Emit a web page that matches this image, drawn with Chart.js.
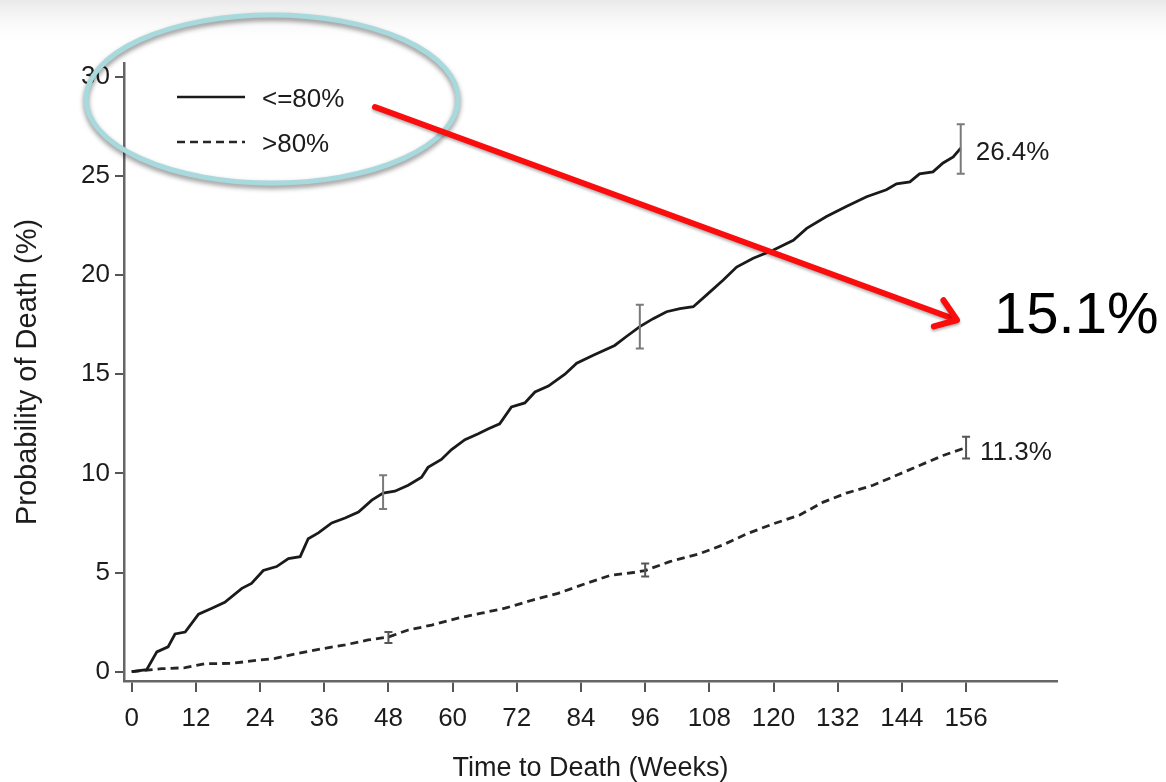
<!DOCTYPE html>
<html>
<head>
<meta charset="utf-8">
<title>Probability of Death</title>
<script src="https://cdn.jsdelivr.net/npm/chart.js@4/dist/chart.umd.min.js"></script>
<style>
  html, body { margin: 0; padding: 0; background: #ffffff; }
  #wrap { width: 1166px; height: 782px; position: relative; }
</style>
</head>
<body>
<div id="wrap"><canvas id="c"></canvas></div>
<script>
// Cumulative probability of death (%) by week, two groups
const solidLabel = '<=80%';
const dashedLabel = '>80%';

const solidWeeks = [0, 2.8, 4.7, 6.8, 8.1, 10, 12.5, 15, 17.4, 20.6, 22.4, 24.6, 27.1, 29.3, 31.5, 33, 34.9, 37.4, 39.9, 42.4, 44.9, 47, 49.2, 51.7, 54.2, 55.4, 57.9, 59.8, 62.3, 64.8, 66.7, 68.8, 71, 73.5, 75.4, 77.9, 81, 83.2, 86.3, 90.3, 92.5, 95, 97.5, 100, 102.5, 105, 107.5, 110.6, 113.1, 116.2, 119.9, 123.7, 126.2, 129.9, 133.6, 137.4, 141.1, 143, 145.5, 147.3, 149.8, 151.7, 153.6, 155];
const solidRisk = [0, 0.1, 1.0, 1.25, 1.9, 2.0, 2.9, 3.2, 3.5, 4.2, 4.45, 5.1, 5.3, 5.7, 5.8, 6.7, 7.0, 7.5, 7.75, 8.05, 8.65, 9.0, 9.1, 9.4, 9.8, 10.3, 10.7, 11.2, 11.7, 12.0, 12.25, 12.5, 13.35, 13.55, 14.1, 14.4, 15.0, 15.55, 15.95, 16.45, 16.9, 17.4, 17.8, 18.15, 18.3, 18.4, 19.0, 19.75, 20.4, 20.85, 21.25, 21.75, 22.35, 22.95, 23.45, 23.95, 24.3, 24.6, 24.7, 25.1, 25.2, 25.65, 25.95, 26.4];

const dashedWeeks = [0, 5.6, 10, 13.7, 18.7, 23.7, 26.8, 31.1, 36.1, 39.9, 44.2, 48, 51.7, 56.1, 61, 65.4, 69.8, 74.8, 79.7, 85, 89.4, 93.8, 96, 100.6, 106.2, 110.6, 115, 119.9, 124.9, 129.3, 133.6, 138.6, 143, 147.3, 151.7, 156];
const dashedRisk = [0, 0.15, 0.2, 0.4, 0.42, 0.58, 0.67, 0.92, 1.18, 1.35, 1.6, 1.75, 2.1, 2.35, 2.7, 2.95, 3.2, 3.6, 3.95, 4.45, 4.85, 5.0, 5.1, 5.55, 5.95, 6.4, 6.95, 7.45, 7.9, 8.55, 9.0, 9.4, 9.9, 10.4, 10.9, 11.3];

// Confidence intervals at yearly time points
const solidCiWeeks = [47, 95, 155];
const solidCiLow = [8.2, 16.3, 25.1];
const solidCiHigh = [9.9, 18.5, 27.6];
const dashedCiWeeks = [48, 96, 156];
const dashedCiLow = [1.45, 4.8, 10.75];
const dashedCiHigh = [2.0, 5.45, 11.85];

const xTickValues = [0, 12, 24, 36, 48, 60, 72, 84, 96, 108, 120, 132, 144, 156];
const yTickValues = [0, 5, 10, 15, 20, 25, 30];

const xTitle = 'Time to Death (Weeks)';
const yTitle = 'Probability of Death (%)';

const FONT = "'Liberation Sans', Arial, Helvetica, sans-serif";
const INK = '#1c1c1c';
const AXIS = '#666666';

const toPoints = (xs, ys) => xs.map((x, i) => ({ x: x, y: ys[i] }));

const backgroundPlugin = {
  id: 'pageBackground',
  beforeDraw(chart) {
    const ctx = chart.ctx;
    ctx.save();
    ctx.fillStyle = '#ffffff';
    ctx.fillRect(0, 0, chart.width, chart.height);
    const g = ctx.createLinearGradient(0, 0, 0, 48);
    g.addColorStop(0, '#e9e9e9');
    g.addColorStop(1, 'rgba(255,255,255,0)');
    ctx.fillStyle = g;
    ctx.fillRect(0, 0, chart.width, 48);
    ctx.restore();
  }
};

// Confidence-interval bars and end-of-curve labels
const intervalPlugin = {
  id: 'intervals',
  afterDatasetsDraw(chart) {
    const ctx = chart.ctx;
    const xs = chart.scales.x, ys = chart.scales.y;
    const drawBars = (weeks, lo, hi) => {
      weeks.forEach((w, i) => {
        const px = xs.getPixelForValue(w);
        const p1 = ys.getPixelForValue(lo[i]);
        const p2 = ys.getPixelForValue(hi[i]);
        ctx.beginPath();
        ctx.moveTo(px, p1); ctx.lineTo(px, p2);
        ctx.moveTo(px - 4, p1); ctx.lineTo(px + 4, p1);
        ctx.moveTo(px - 4, p2); ctx.lineTo(px + 4, p2);
        ctx.stroke();
      });
    };
    ctx.save();
    ctx.strokeStyle = '#7a7a7a';
    ctx.lineWidth = 2;
    drawBars(solidCiWeeks, solidCiLow, solidCiHigh);
    ctx.strokeStyle = '#555555';
    drawBars(dashedCiWeeks, dashedCiLow, dashedCiHigh);

    ctx.fillStyle = INK;
    ctx.font = '26px ' + FONT;
    ctx.textAlign = 'left';
    ctx.textBaseline = 'middle';
    const sLast = solidRisk.length - 1;
    const dLast = dashedRisk.length - 1;
    ctx.fillText(solidRisk[sLast].toFixed(1) + '%',
      xs.getPixelForValue(solidWeeks[sLast]) + 15, ys.getPixelForValue(solidRisk[sLast]) + 5);
    ctx.fillText(dashedRisk[dLast].toFixed(1) + '%',
      xs.getPixelForValue(dashedWeeks[dLast]) + 14, ys.getPixelForValue(dashedRisk[dLast]) + 5);
    ctx.restore();
  }
};

// Legend drawn inside the plot, plus the callout ellipse, arrow and difference figure
const overlayPlugin = {
  id: 'overlay',
  afterDraw(chart) {
    const ctx = chart.ctx;
    ctx.save();

    // legend entries
    const items = chart.data.datasets;
    const rows = [97, 142];
    items.forEach((ds, i) => {
      const y = rows[i];
      ctx.beginPath();
      ctx.strokeStyle = ds.borderColor;
      ctx.lineWidth = 2.5;
      ctx.setLineDash(ds.borderDash || []);
      ctx.moveTo(177, y); ctx.lineTo(245, y);
      ctx.stroke();
      ctx.setLineDash([]);
      ctx.fillStyle = INK;
      ctx.font = '26px ' + FONT;
      ctx.textAlign = 'left';
      ctx.textBaseline = 'middle';
      ctx.fillText(ds.label, 262, y + 3);
    });

    // callout ellipse
    ctx.save();
    ctx.shadowColor = 'rgba(0,0,0,0.45)';
    ctx.shadowBlur = 5;
    ctx.shadowOffsetY = 3;
    ctx.beginPath();
    ctx.ellipse(272, 99, 186, 84, 0, 0, Math.PI * 2);
    ctx.strokeStyle = '#a7d9dd';
    ctx.lineWidth = 5;
    ctx.stroke();
    ctx.restore();

    // arrow
    const x0 = 375, y0 = 107, x1 = 957, y1 = 320;
    const ang = Math.atan2(y1 - y0, x1 - x0);
    ctx.save();
    ctx.shadowColor = 'rgba(0,0,0,0.3)';
    ctx.shadowBlur = 3;
    ctx.shadowOffsetY = 2;
    ctx.strokeStyle = '#fb0d0d';
    ctx.lineWidth = 6;
    ctx.lineCap = 'round';
    ctx.lineJoin = 'round';
    ctx.beginPath();
    ctx.moveTo(x0, y0); ctx.lineTo(x1 - 3 * Math.cos(ang), y1 - 3 * Math.sin(ang));
    ctx.stroke();
    const len = 24, spread = 0.62;
    ctx.beginPath();
    ctx.moveTo(x1 - len * Math.cos(ang - spread), y1 - len * Math.sin(ang - spread));
    ctx.lineTo(x1, y1);
    ctx.lineTo(x1 - len * Math.cos(ang + spread), y1 - len * Math.sin(ang + spread));
    ctx.stroke();
    ctx.restore();

    // difference between the two groups at the last time point
    const diff = solidRisk[solidRisk.length - 1] - dashedRisk[dashedRisk.length - 1];
    ctx.fillStyle = '#000000';
    ctx.font = '58px ' + FONT;
    ctx.textAlign = 'left';
    ctx.textBaseline = 'alphabetic';
    ctx.fillText(diff.toFixed(1) + '%', 994, 333);

    ctx.restore();
  }
};

new Chart(document.getElementById('c'), {
  type: 'line',
  data: {
    datasets: [
      {
        label: solidLabel,
        data: toPoints(solidWeeks, solidRisk),
        borderColor: '#1a1a1a',
        borderWidth: 2.8,
        pointRadius: 0,
        tension: 0,
        fill: false
      },
      {
        label: dashedLabel,
        data: toPoints(dashedWeeks, dashedRisk),
        borderColor: '#262626',
        borderWidth: 2.8,
        borderDash: [8, 5],
        pointRadius: 0,
        tension: 0,
        fill: false
      }
    ]
  },
  options: {
    responsive: true,
    maintainAspectRatio: false,
    animation: false,
    layout: { padding: { top: 63, right: 109, left: 0, bottom: 0 } },
    plugins: {
      legend: { display: false },
      tooltip: { enabled: false }
    },
    scales: {
      x: {
        type: 'linear',
        min: -1.44,
        max: 173,
        afterBuildTicks(scale) { scale.ticks = xTickValues.map(v => ({ value: v })); },
        afterFit(scale) { scale.height = 101; },
        ticks: {
          color: INK,
          font: { family: FONT, size: 26 },
          padding: 11,
          maxRotation: 0,
          autoSkip: false
        },
        grid: { drawOnChartArea: false, drawTicks: true, tickLength: 11, color: '#555555', lineWidth: 2 },
        border: { display: true, color: AXIS, width: 2.5 },
        title: {
          display: true,
          text: xTitle,
          color: INK,
          font: { family: FONT, size: 27 },
          padding: { top: 2, bottom: -3 }
        }
      },
      y: {
        type: 'linear',
        min: -0.47,
        max: 30.69,
        afterBuildTicks(scale) { scale.ticks = yTickValues.map(v => ({ value: v })); },
        afterFit(scale) { scale.width = 124; },
        ticks: {
          color: INK,
          font: { family: FONT, size: 26 },
          padding: 5,
          autoSkip: false
        },
        grid: { drawOnChartArea: false, drawTicks: true, tickLength: 9, color: '#555555', lineWidth: 2 },
        border: { display: true, color: AXIS, width: 2.5 },
        title: {
          display: true,
          text: yTitle,
          color: INK,
          font: { family: FONT, size: 29 },
          padding: { top: 11, bottom: 0 }
        }
      }
    }
  },
  plugins: [backgroundPlugin, intervalPlugin, overlayPlugin]
});
</script>
</body>
</html>
